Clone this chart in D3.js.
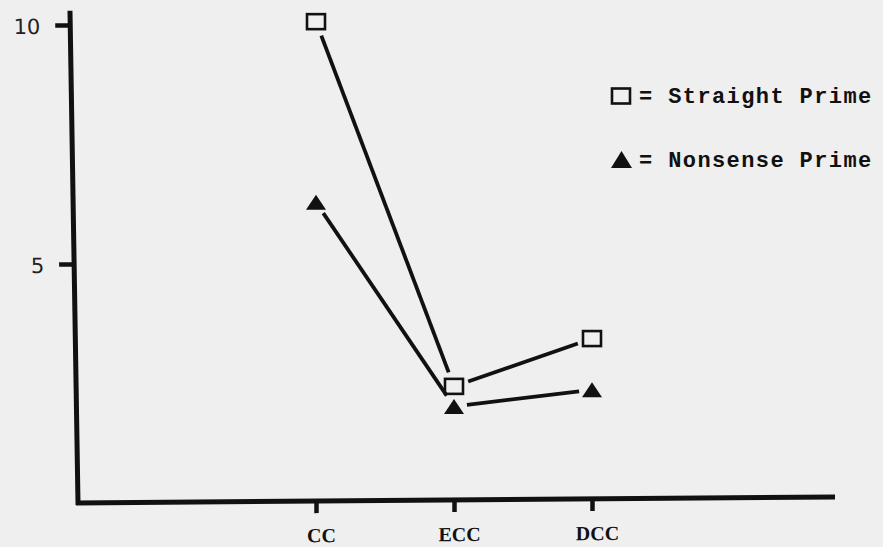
<!DOCTYPE html>
<html>
<head>
<meta charset="utf-8">
<script src="https://cdn.jsdelivr.net/npm/d3@7"></script>
<style>
  html, body { margin: 0; padding: 0; background: #efefef; }
  svg { display: block; }
</style>
</head>
<body>
<svg id="chart" width="883" height="547"></svg>
<script>
// ---- data ----
const categories = ["CC", "ECC", "DCC"];
const straightPrime = [10.07, 2.44, 3.44];
const nonsensePrime = [6.29, 2.02, 2.37];
const yTicks = [5, 10];
const legendLabels = ["= Straight Prime", "= Nonsense Prime"];

// ---- layout ----
const W = 883, H = 547;
const svg = d3.select("#chart");
svg.append("rect").attr("width", W).attr("height", H).attr("fill", "#efefef");

const y = d3.scaleLinear().domain([0, 10]).range([503, 25]);
const x = d3.scalePoint().domain(categories).range([316, 592]);

const ink = "#111";

// ---- y axis (slightly leaning, as in the scan) ----
const k = 8 / 492;
const yAxisG = svg.append("g")
  .attr("transform", `translate(${78 - k * 503},0) skewX(${Math.atan(k) * 180 / Math.PI})`);
yAxisG.append("line")
  .attr("x1", 0).attr("x2", 0)
  .attr("y1", y(10.3)).attr("y2", y(0) + 2)
  .attr("stroke", ink).attr("stroke-width", 5);
const yAx = d3.axisLeft(y).tickValues(yTicks).tickFormat(d3.format("d"))
  .tickSize(15).tickPadding(15);
const yg = yAxisG.append("g").call(yAx);
yg.select(".domain").remove();
yg.selectAll(".tick line").attr("stroke", ink).attr("stroke-width", 4.5);
yg.selectAll(".tick text")
  .attr("fill", "#222")
  .style("font-family", "'DejaVu Sans', sans-serif")
  .style("font-size", "21px")
  .attr("dy", "0.42em");

// ---- x axis (slightly rising) ----
const s = -6 / 757;
const xAxisG = svg.append("g")
  .attr("transform", `translate(0,${503 - s * 78}) skewY(${Math.atan(s) * 180 / Math.PI})`);
xAxisG.append("line")
  .attr("x1", 76).attr("x2", 835)
  .attr("y1", 0).attr("y2", 0)
  .attr("stroke", ink).attr("stroke-width", 5);
const xAx = d3.axisBottom(x).tickSize(12).tickPadding(15);
const xg = xAxisG.append("g").call(xAx);
xg.select(".domain").remove();
xg.selectAll(".tick line").attr("stroke", ink).attr("stroke-width", 4.5);
xg.selectAll(".tick text")
  .attr("fill", "#111")
  .style("font-family", "'Liberation Serif', 'Times New Roman', serif")
  .style("font-weight", "bold")
  .style("font-size", "20px")
  .attr("dx", "5");

// ---- series ----
function drawSeries(vals, gap) {
  const pts = categories.map((c, i) => [x(c), y(vals[i])]);
  for (let i = 0; i < pts.length - 1; i++) {
    const [x1, y1] = pts[i], [x2, y2] = pts[i + 1];
    const L = Math.hypot(x2 - x1, y2 - y1);
    const ux = (x2 - x1) / L, uy = (y2 - y1) / L;
    svg.append("line")
      .attr("x1", x1 + ux * gap).attr("y1", y1 + uy * gap)
      .attr("x2", x2 - ux * gap).attr("y2", y2 - uy * gap)
      .attr("stroke", ink).attr("stroke-width", 3.8);
  }
  return pts;
}
const sqPts = drawSeries(straightPrime, 15);
const trPts = drawSeries(nonsensePrime, 13);

function square(g, cx, cy) {
  g.append("rect")
    .attr("x", cx - 9).attr("y", cy - 7.5)
    .attr("width", 18).attr("height", 15)
    .attr("fill", "none").attr("stroke", ink).attr("stroke-width", 2.6);
}
function triangle(g, cx, cy, w, h) {
  g.append("path")
    .attr("d", `M${cx},${cy - h / 2}L${cx + w / 2},${cy + h / 2}L${cx - w / 2},${cy + h / 2}Z`)
    .attr("fill", ink);
}
sqPts.forEach(p => square(svg, p[0], p[1]));
trPts.forEach(p => triangle(svg, p[0], p[1], 20, 15));

// ---- legend ----
const lg = svg.append("g");
square(lg, 621, 96);
triangle(lg, 621.5, 159.5, 21, 17);
lg.selectAll("text.leg").data(legendLabels).enter().append("text")
  .attr("class", "leg")
  .attr("x", 639)
  .attr("y", (d, i) => 103 + i * 64)
  .attr("fill", "#111")
  .style("font-family", "'Liberation Mono', 'Courier New', monospace")
  .style("font-weight", "bold")
  .style("font-size", "22px")
  .style("letter-spacing", "1.4px")
  .text(d => d);
</script>
</body>
</html>
